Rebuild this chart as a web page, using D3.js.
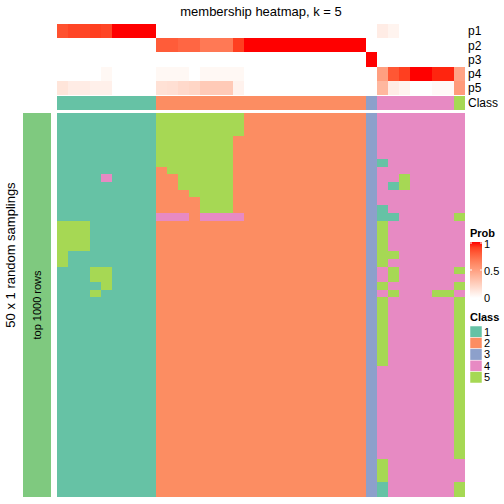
<!DOCTYPE html>
<html><head><meta charset="utf-8">
<script src="https://cdn.jsdelivr.net/npm/d3@7"></script>
<style>body{margin:0;background:#fff}svg{display:block}text{font-family:"Liberation Sans",Arial,sans-serif}</style>
</head><body><svg id="c" width="504" height="504"></svg>
<script>
// ---- data ----
const classNames = ["1","2","3","4","5"];
const classColors = ["#66C2A5","#FC8D62","#8DA0CB","#E78AC3","#A6D854"];
const probRows = ["p1","p2","p3","p4","p5"];
// class of each of the 37 samples (columns)
const colClass = [1,1,1,1,1,1,1,1,1, 2,2,2,2,2,2,2,2,2,2,2,2,2,2,2,2,2,2,2, 3, 4,4,4,4,4,4,4, 5];
const p1 = [.84,.88,.88,.9,.88,1,1,1,1, 0,0,0,0,0,0,0,0,0,0,0,0,0,0,0,0,0,0,0, 0, .1,.06,0,0,0,0,0, 0];
const p2 = [0,0,0,0,0,0,0,0,0, .8,.8,.76,.76,.68,.68,.68,.9,1,1,1,1,1,1,1,1,1,1,1, 0, 0,0,0,0,0,0,0, 0];
const p3 = [0,0,0,0,0,0,0,0,0, 0,0,0,0,0,0,0,0,0,0,0,0,0,0,0,0,0,0,0, 1, 0,0,0,0,0,0,0, 0];
const p4 = [0,0,0,0,.04,0,0,0,0, .04,.04,.04,0,.04,.04,.04,.04,0,0,0,0,0,0,0,0,0,0,0, 0, .5,.82,.9,1,1,.96,.96, .48];
const p5 = [.14,.1,.1,.08,.08,0,0,0,0, .16,.17,.2,.22,.28,.28,.28,.07,0,0,0,0,0,0,0,0,0,0,0, 0, .38,.1,.06,0,0,.03,.03, .52];
// membership per random sampling (50 rows x 37 columns)
const membership = [
"111111111"+"5555555522222222222"+"3"+"44444444",
"111111111"+"5555555522222222222"+"3"+"44444444",
"111111111"+"5555555522222222222"+"3"+"44444444",
"111111111"+"5555555222222222222"+"3"+"44444444",
"111111111"+"5555555222222222222"+"3"+"44444444",
"111111111"+"5555555222222222222"+"3"+"44444444",
"111111111"+"5555555222222222222"+"3"+"14444444",
"111111111"+"2555555222222222222"+"3"+"44444444",
"111141111"+"2255555222222222222"+"3"+"44544444",
"111111111"+"2255555222222222222"+"3"+"41544444",
"111111111"+"2225555222222222222"+"3"+"44444444",
"111111111"+"2222555222222222222"+"3"+"44444444",
"111111111"+"2222555222222222222"+"3"+"14444444",
"111111111"+"4442444422222222222"+"3"+"11444445",
"555111111"+"2222222222222222222"+"3"+"54444444",
"555111111"+"2222222222222222222"+"3"+"54444444",
"555111111"+"2222222222222222222"+"3"+"54444444",
"555111111"+"2222222222222222222"+"3"+"54444444",
"511111111"+"2222222222222222222"+"3"+"55444444",
"511111111"+"2222222222222222222"+"3"+"54444444",
"111551111"+"2222222222222222222"+"3"+"45444445",
"111551111"+"2222222222222222222"+"3"+"45444444",
"111151111"+"2222222222222222222"+"3"+"54444445",
"111511111"+"2222222222222222222"+"3"+"45444554",
"111111111"+"2222222222222222222"+"3"+"54444445",
"111111111"+"2222222222222222222"+"3"+"54444445",
"111111111"+"2222222222222222222"+"3"+"54444445",
"111111111"+"2222222222222222222"+"3"+"54444445",
"111111111"+"2222222222222222222"+"3"+"54444445",
"111111111"+"2222222222222222222"+"3"+"54444445",
"111111111"+"2222222222222222222"+"3"+"54444445",
"111111111"+"2222222222222222222"+"3"+"54444445",
"111111111"+"2222222222222222222"+"3"+"54444445",
"111111111"+"2222222222222222222"+"3"+"44444445",
"111111111"+"2222222222222222222"+"3"+"44444445",
"111111111"+"2222222222222222222"+"3"+"44444445",
"111111111"+"2222222222222222222"+"3"+"44444445",
"111111111"+"2222222222222222222"+"3"+"44444445",
"111111111"+"2222222222222222222"+"3"+"44444445",
"111111111"+"2222222222222222222"+"3"+"44444445",
"111111111"+"2222222222222222222"+"3"+"44444445",
"111111111"+"2222222222222222222"+"3"+"44444445",
"111111111"+"2222222222222222222"+"3"+"44444445",
"111111111"+"2222222222222222222"+"3"+"44444445",
"111111111"+"2222222222222222222"+"3"+"44444445",
"111111111"+"2222222222222222222"+"3"+"54444444",
"111111111"+"2222222222222222222"+"3"+"54444444",
"111111111"+"2222222222222222222"+"3"+"54444444",
"111111111"+"2222222222222222222"+"3"+"14444445",
"111111111"+"2222222222222222222"+"3"+"14444445"
];
const probTicks = [0, 0.5, 1];

// ---- drawing ----
const svg = d3.select("#c");
const nCol = colClass.length;
const x = d3.scaleBand().domain(d3.range(nCol)).range([57, 465]);
const yAnn = d3.scaleBand().domain(probRows).range([24, 95]);
const yMain = d3.scaleBand().domain(d3.range(membership.length)).range([113, 497]);
const probColor = d3.scaleLinear().domain([0, 1]).range(["#ffffff", "#ff0000"]).interpolate(d3.interpolateLab);
const classColor = d3.scaleOrdinal().domain(classNames).range(classColors);
// pixel-snapped band edges (avoid seams)
const bx = j => Math.round(x(j));
const bw = j => Math.round(x(j) + x.bandwidth()) - Math.round(x(j));
const by = (s, k) => Math.round(s(k));
const bh = (s, k) => Math.round(s(k) + s.bandwidth()) - Math.round(s(k));

svg.append("text").attr("x", 261).attr("y", 16).attr("text-anchor", "middle")
  .attr("font-size", 13).text("membership heatmap, k = 5");

const cellG = svg.append("g").attr("shape-rendering", "crispEdges");

// probability annotation rows
const probData = [p1, p2, p3, p4, p5];
probRows.forEach((r, i) => {
  cellG.append("g").selectAll("rect").data(probData[i]).join("rect")
    .attr("x", (d, j) => bx(j)).attr("y", by(yAnn, r))
    .attr("width", (d, j) => bw(j)).attr("height", bh(yAnn, r))
    .attr("fill", d => probColor(d));
  svg.append("text").attr("x", 468).attr("y", yAnn(r) + yAnn.bandwidth() / 2)
    .attr("dy", "0.35em").attr("font-size", 12).text(r);
});
// class annotation row
cellG.append("g").selectAll("rect").data(colClass).join("rect")
  .attr("x", (d, j) => bx(j)).attr("y", 96)
  .attr("width", (d, j) => bw(j)).attr("height", 14)
  .attr("fill", d => classColor(String(d)));
svg.append("text").attr("x", 468).attr("y", 103).attr("dy", "0.35em").attr("font-size", 12).text("Class");

// main heatmap
const cells = [];
membership.forEach((row, i) => row.split("").forEach((c, j) => cells.push({ i, j, c })));
cellG.append("g").selectAll("rect").data(cells).join("rect")
  .attr("x", d => bx(d.j)).attr("y", d => by(yMain, d.i))
  .attr("width", d => bw(d.j)).attr("height", d => bh(yMain, d.i))
  .attr("fill", d => classColor(d.c));

// left bar
svg.append("rect").attr("x", 23).attr("y", 113).attr("width", 28).attr("height", 384).attr("fill", "#7FC97F");
svg.append("text").attr("transform", "translate(37,305) rotate(-90)").attr("text-anchor", "middle")
  .attr("dy", "0.35em").attr("font-size", 11).text("top 1000 rows");
svg.append("text").attr("transform", "translate(10,255) rotate(-90)").attr("text-anchor", "middle")
  .attr("dy", "0.35em").attr("font-size", 13).text("50 x 1 random samplings");

// Prob legend
const defs = svg.append("defs");
const grad = defs.append("linearGradient").attr("id", "pg").attr("x1", 0).attr("y1", 1).attr("x2", 0).attr("y2", 0);
d3.range(0, 1.001, 0.1).forEach(t => grad.append("stop").attr("offset", t).attr("stop-color", probColor(t)));
const yLeg = d3.scaleLinear().domain([0, 1]).range([297, 243]);
svg.append("text").attr("x", 470).attr("y", 237).attr("font-size", 11).attr("font-weight", "bold").text("Prob");
svg.append("rect").attr("x", 470).attr("y", 242).attr("width", 12).attr("height", 56).attr("fill", "url(#pg)");
probTicks.forEach(t => {
  if (t > 0) {
    svg.append("line").attr("x1", 470).attr("x2", 472).attr("y1", yLeg(t)).attr("y2", yLeg(t)).attr("stroke", "#fff");
    svg.append("line").attr("x1", 480).attr("x2", 482).attr("y1", yLeg(t)).attr("y2", yLeg(t)).attr("stroke", "#fff");
  }
  svg.append("text").attr("x", 484).attr("y", yLeg(t) + 1).attr("dy", "0.35em").attr("font-size", 11).text(String(t));
});

// Class legend
svg.append("text").attr("x", 470).attr("y", 321).attr("font-size", 11).attr("font-weight", "bold").text("Class");
const yCl = d3.scaleBand().domain(classNames).range([326, 383]);
svg.append("g").selectAll("rect").data(classNames).join("rect")
  .attr("x", 470).attr("y", d => yCl(d)).attr("width", 12).attr("height", yCl.bandwidth())
  .attr("fill", d => classColor(d)).attr("stroke", "#fff").attr("stroke-width", 0.5);
svg.append("g").selectAll("text").data(classNames).join("text")
  .attr("x", 484).attr("y", d => yCl(d) + yCl.bandwidth() / 2).attr("dy", "0.35em")
  .attr("font-size", 11).text(d => d);
</script></body></html>
